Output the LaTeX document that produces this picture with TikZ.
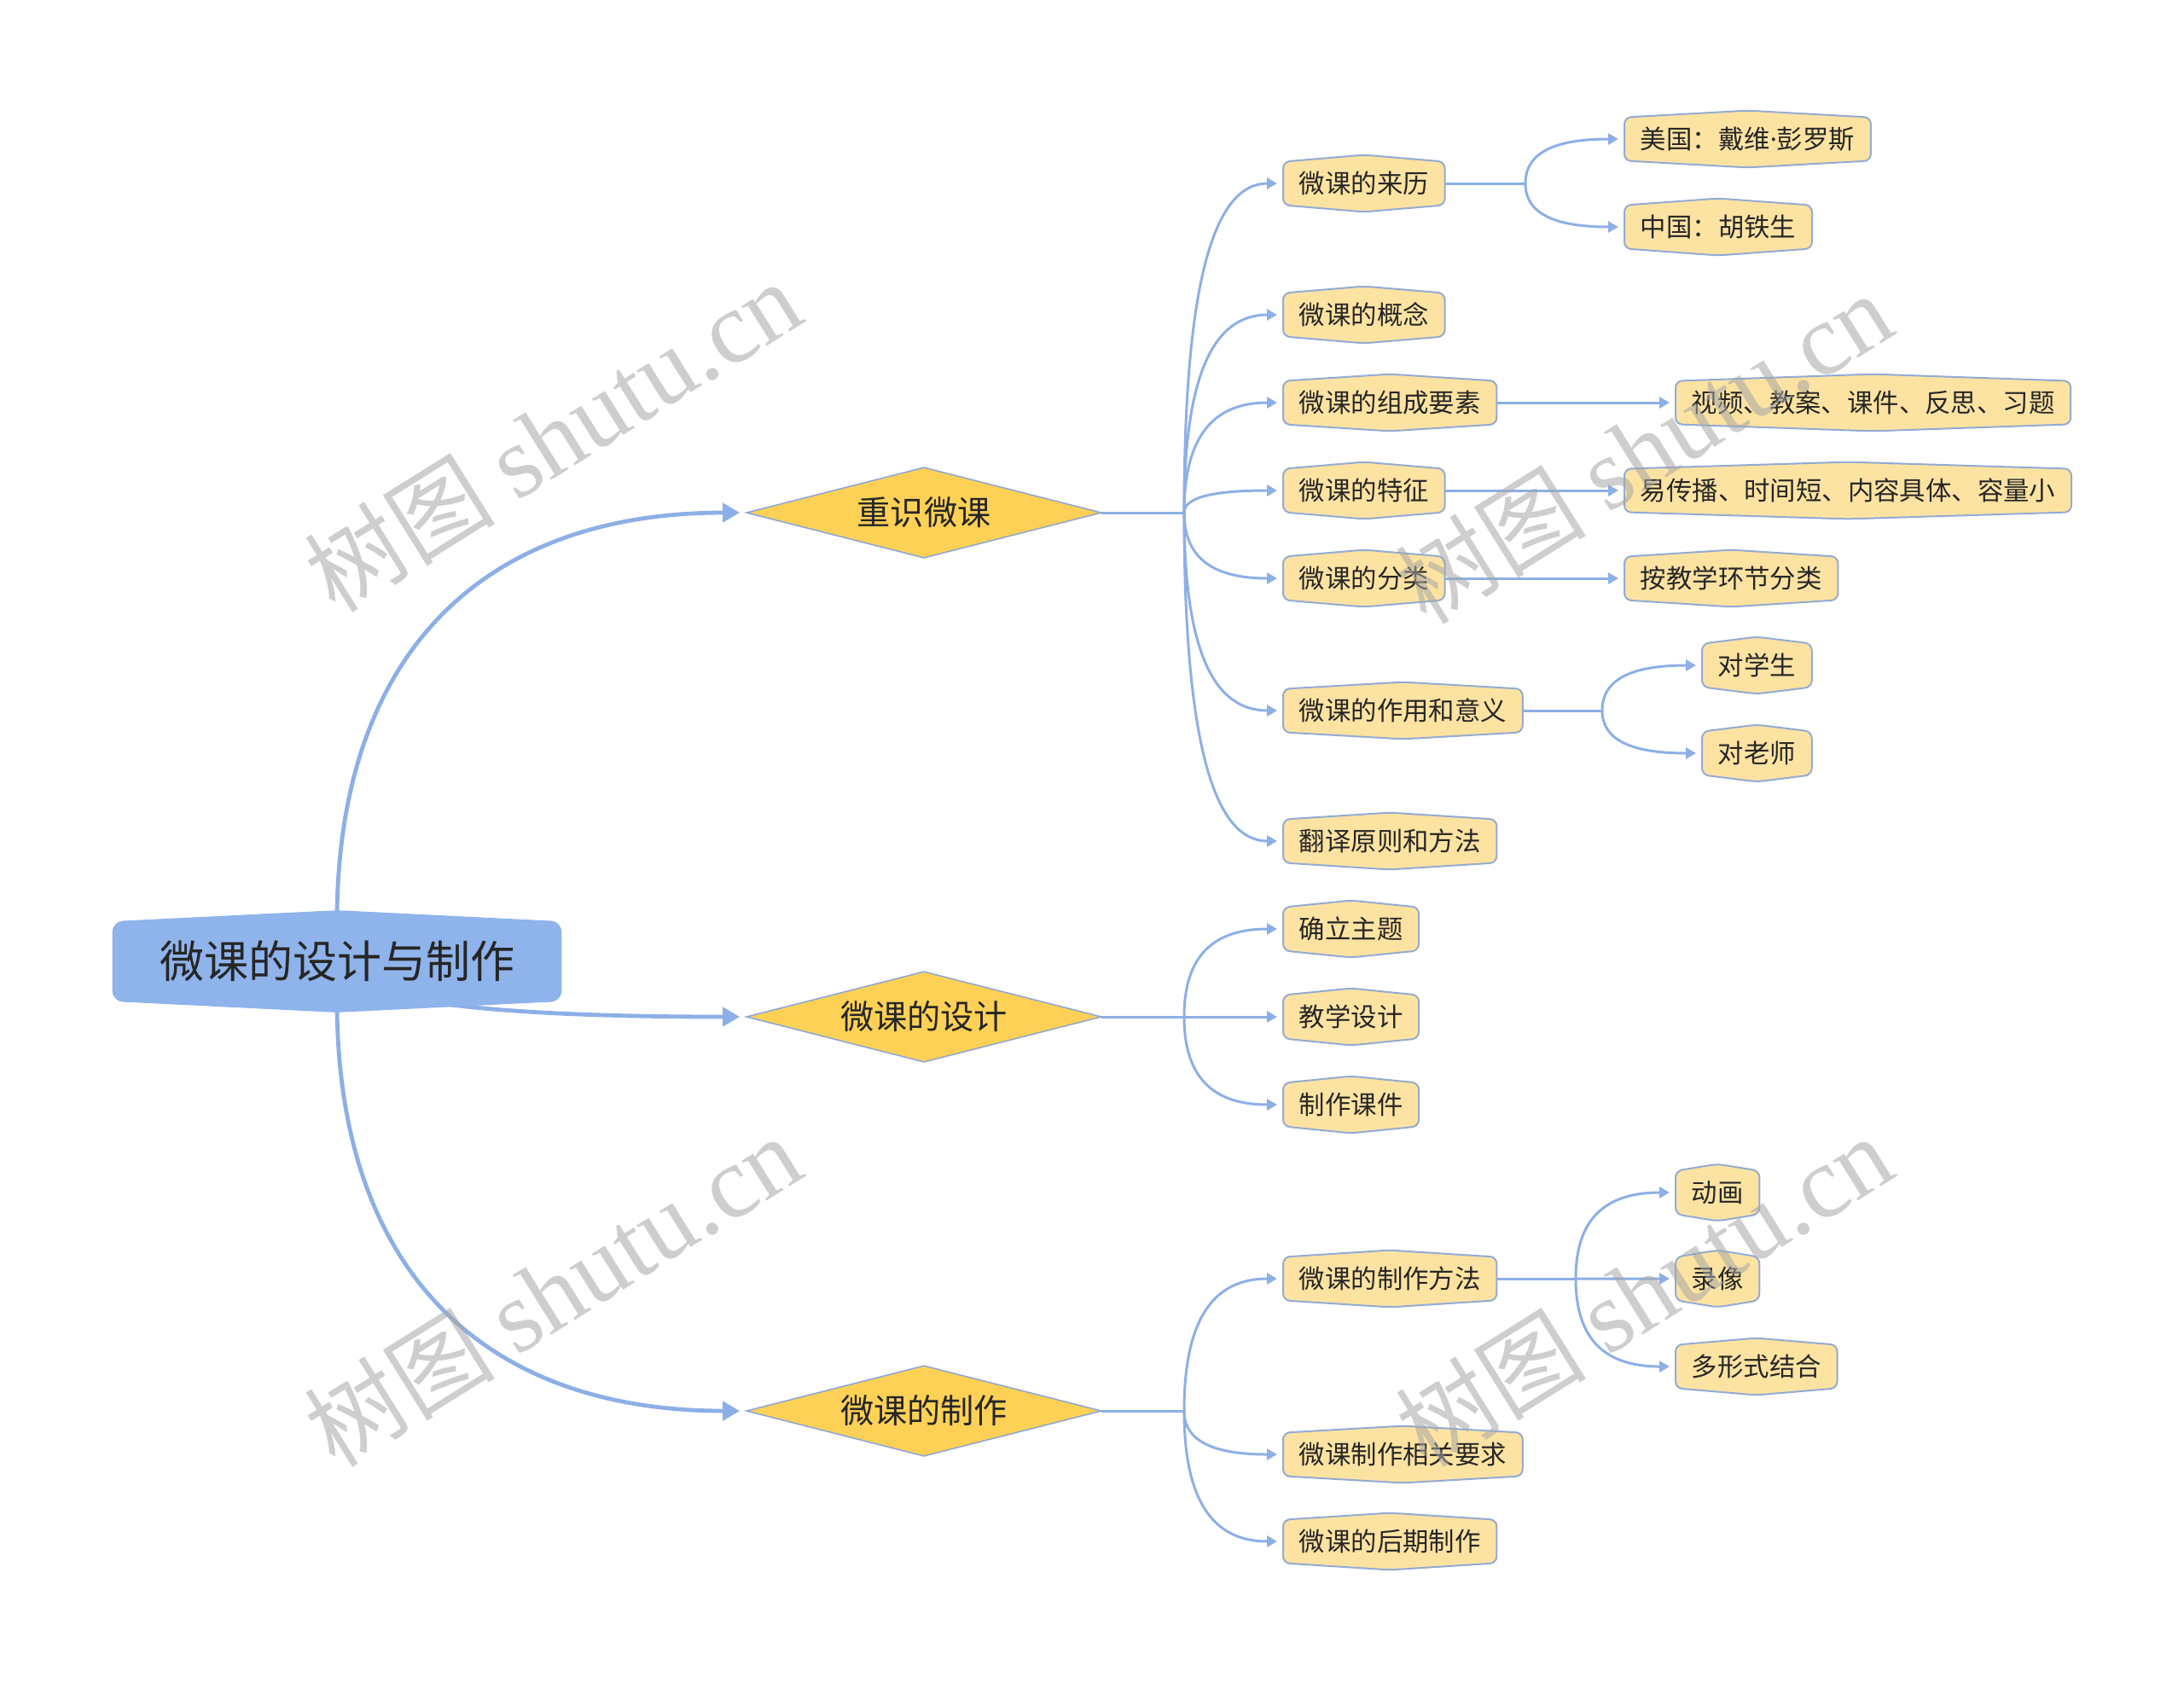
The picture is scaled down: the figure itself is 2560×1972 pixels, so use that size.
\documentclass[tikz,border=0pt]{standalone}
\usepackage{fontspec}
\newfontfamily\cjk{Noto Sans CJK SC}
\newfontfamily\wmlat{Liberation Serif}
\newfontfamily\latn{Noto Sans}
\usetikzlibrary{arrows.meta,calc}
\pgfdeclarelayer{bg}\pgfdeclarelayer{shp}\pgfdeclarelayer{wmk}
\pgfsetlayers{bg,shp,main,wmk}
\definecolor{lineblue}{HTML}{8DAFE6}
\definecolor{rootblue}{HTML}{8FB3EB}
\definecolor{diafill}{HTML}{FDD156}
\definecolor{diaborder}{HTML}{8FA8D2}
\definecolor{leaffill}{HTML}{FDE3A2}
\definecolor{leafborder}{HTML}{93ABD3}
\definecolor{textdark}{HTML}{262626}
\definecolor{wmgray}{HTML}{A6A6A6}
\begin{document}
\begin{tikzpicture}[x=0.5pt,y=-0.5pt,
  leaf/.style={anchor=west, inner xsep=9.2pt, inner ysep=0pt, minimum height=25pt,
    font=\cjk\fontsize{15.2}{18}\selectfont, text=textdark},
  leafshape/.style={fill=leaffill, draw=leafborder, line width=1pt, rounded corners=4pt},
  dianode/.style={inner sep=0pt, minimum width=207.5pt, minimum height=52.5pt,
    font=\cjk\fontsize{19.6}{22}\selectfont, text=textdark},
  diashape/.style={fill=diafill, draw=diaborder, line width=0.8pt},
  rootnode/.style={inner sep=0pt, minimum width=262.5pt, minimum height=46pt,
    font=\cjk\fontsize{26}{30}\selectfont, text=textdark},
  rootshape/.style={fill=rootblue, draw=rootblue, line width=0.5pt, rounded corners=6pt},
  conn/.style={draw=lineblue, line width=1.5pt, -{Triangle[length=6pt,width=6.5pt]}, shorten >=3.5pt},
  connline/.style={draw=lineblue, line width=1.5pt},
  mainconn/.style={draw=lineblue, line width=2.4pt, -{Triangle[length=10pt,width=11pt]}, shorten >=4pt},
  wm/.style={text=wmgray, opacity=0.55, rotate=32, inner sep=0pt},
  wmtext/.style={font=\cjk\fontsize{56}{56}\selectfont}
]
\useasboundingbox (0,0) rectangle (2560,1972);

% root
\node[rootnode] (root) at (395,1127) {微课的设计与制作};

% level 1
\node[dianode] (d1) at (1083,601) {重识微课};
\node[dianode] (d2) at (1083,1192) {微课的设计};
\node[dianode] (d3) at (1083,1654) {微课的制作};

% level 2 under d1
\node[leaf] (c1) at (1504,215) {微课的来历};
\node[leaf] (c2) at (1504,369) {微课的概念};
\node[leaf] (c3) at (1504,472) {微课的组成要素};
\node[leaf] (c4) at (1504,575) {微课的特征};
\node[leaf] (c5) at (1504,678) {微课的分类};
\node[leaf] (c6) at (1504,833) {微课的作用和意义};
\node[leaf] (c7) at (1504,986) {翻译原则和方法};

% level 3 under d1
\node[leaf] (g1) at (1904,163) {美国：戴维{\latn·}彭罗斯};
\node[leaf] (g2) at (1904,266) {中国：胡铁生};
\node[leaf] (g3) at (1964,472) {视频、教案、课件、反思、习题};
\node[leaf] (g4) at (1904,575) {易传播、时间短、内容具体、容量小};
\node[leaf] (g5) at (1904,678) {按教学环节分类};
\node[leaf] (g6) at (1995,780) {对学生};
\node[leaf] (g7) at (1995,883) {对老师};

% under d2
\node[leaf] (e1) at (1504,1089) {确立主题};
\node[leaf] (e2) at (1504,1192) {教学设计};
\node[leaf] (e3) at (1504,1295) {制作课件};

% under d3
\node[leaf] (f1) at (1504,1499) {微课的制作方法};
\node[leaf] (f2) at (1504,1705) {微课制作相关要求};
\node[leaf] (f3) at (1504,1807) {微课的后期制作};
\node[leaf] (h1) at (1964,1398) {动画};
\node[leaf] (h2) at (1964,1499) {录像};
\node[leaf] (h3) at (1964,1602) {多形式结合};

% junctions
\coordinate (J1) at (1388,601);
\coordinate (J2) at (1388,1192);
\coordinate (J3) at (1388,1654);
\coordinate (Jc1) at (1788,215);
\coordinate (Jc6) at (1878,833);
\coordinate (Jf1) at (1847,1499);

% shapes
\begin{pgfonlayer}{shp}
  \filldraw[rootshape] (root.north west) -- ([yshift=6.5pt]root.north) -- (root.north east)
    -- (root.south east) -- ([yshift=-6.5pt]root.south) -- (root.south west) -- cycle;
  \foreach \n in {d1,d2,d3}
    \filldraw[diashape] (\n.west) -- (\n.north) -- (\n.east) -- (\n.south) -- cycle;
  \foreach \n in {c1,c2,c3,c4,c5,c6,c7,g1,g2,g3,g4,g5,g6,g7,e1,e2,e3,f1,f2,f3,h1,h2,h3}
    \filldraw[leafshape] (\n.north west) -- ([yshift=4pt]\n.north) -- (\n.north east)
      -- (\n.south east) -- ([yshift=-4pt]\n.south) -- (\n.south west) -- cycle;
\end{pgfonlayer}

% connectors
\begin{pgfonlayer}{bg}
  \draw[mainconn] (root.north) .. controls ($(root.north)!0.65!(root.north |- d1.west)$)
    and ($(d1.west)!0.65!(root.north |- d1.west)$) .. (d1.west);
  \draw[mainconn] (root.center) .. controls ($(root.center)!0.667!(root.center |- d2.west)$)
    and ($(d2.west)!0.667!(root.center |- d2.west)$) .. (d2.west);
  \draw[mainconn] (root.south) .. controls ($(root.south)!0.65!(root.south |- d3.west)$)
    and ($(d3.west)!0.65!(root.south |- d3.west)$) .. (d3.west);

  \draw[connline] (d1.east) -- (J1);
  \draw[connline] (d2.east) -- (J2);
  \draw[connline] (d3.east) -- (J3);
  \draw[connline] (c1.east) -- (Jc1);
  \draw[connline] (c6.east) -- (Jc6);
  \draw[connline] (f1.east) -- (Jf1);

  \foreach \j/\c in {J1/c1,J1/c2,J1/c3,J1/c4,J1/c5,J1/c6,J1/c7,
                     J2/e1,J2/e2,J2/e3,J3/f1,J3/f2,J3/f3,
                     Jc1/g1,Jc1/g2,Jc6/g6,Jc6/g7,Jf1/h1,Jf1/h2,Jf1/h3}
    \draw[conn] (\j) .. controls ($(\j)!0.7!(\j |- \c.west)$)
      and ($(\c.west)!0.7!(\j |- \c.west)$) .. (\c.west);

  \draw[conn] (c3.east) -- (g3.west);
  \draw[conn] (c4.east) -- (g4.west);
  \draw[conn] (c5.east) -- (g5.west);
\end{pgfonlayer}

% watermarks
\begin{pgfonlayer}{wmk}
  \node[wm,wmtext] (w1) at (648,512) {树图 {\wmlat\fontsize{60}{60}\selectfont shutu.cn}};
  \node[wm,wmtext] (w2) at (1927,526) {树图 {\wmlat\fontsize{60}{60}\selectfont shutu.cn}};
  \node[wm,wmtext] (w3) at (648,1514) {树图 {\wmlat\fontsize{60}{60}\selectfont shutu.cn}};
  \node[wm,wmtext] (w4) at (1927,1514) {树图 {\wmlat\fontsize{60}{60}\selectfont shutu.cn}};
\end{pgfonlayer}
\end{tikzpicture}
\end{document}
